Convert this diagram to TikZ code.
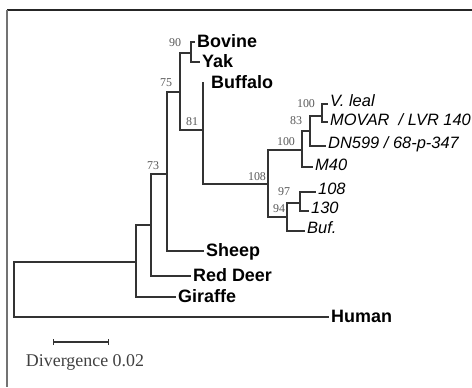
\documentclass[tikz,border=0pt]{standalone}
\usepackage{fontspec}
\setmainfont{Liberation Serif}
\setsansfont{Liberation Sans}
\usetikzlibrary{arrows.meta}

\begin{document}
\begin{tikzpicture}[
  x=1bp, y=-1bp,
  branch/.style={line width=1.4bp, black!80, line cap=rect},
  taxon/.style={anchor=west, inner sep=3bp, text height=13bp, text depth=3bp,
                font=\sffamily\bfseries\fontsize{18}{18}\selectfont},
  strain/.style={anchor=west, inner sep=3bp, text height=11.5bp, text depth=3bp,
                 font=\sffamily\itshape\fontsize{16.5}{16.5}\selectfont},
  boot/.style={inner sep=0pt, text=black!65, font=\fontsize{12}{12}\selectfont},
]
  \useasboundingbox (0,0) rectangle (472,387);

  % frame
  \draw[black!85, line width=1.5bp] (7,10) -- (472,10);
  \draw[black!55, line width=2bp] (7,10) -- (7,387);

  % internal nodes (top and bottom of each vertical)
  \coordinate (rt) at (14,262);  \coordinate (rb) at (14,317);
  \coordinate (At) at (136,225); \coordinate (Ab) at (136,297);
  \coordinate (Bt) at (151,174); \coordinate (Bb) at (151,276);
  \coordinate (Ct) at (167,92);  \coordinate (Cb) at (167,251);
  \coordinate (Dt) at (180,53);  \coordinate (Db) at (180,130);
  \coordinate (Et) at (191,42);  \coordinate (Eb) at (191,62);
  \coordinate (Ft) at (203,83);  \coordinate (Fb) at (203,184);
  \coordinate (Gt) at (268,150); \coordinate (Gb) at (268,217);
  \coordinate (Ht) at (302,131); \coordinate (Hb) at (302,167);
  \coordinate (It) at (310,116); \coordinate (Ib) at (310,146);
  \coordinate (Jt) at (322,104); \coordinate (Jb) at (322,122);
  \coordinate (Kt) at (287,203); \coordinate (Kb) at (287,231);
  \coordinate (Lt) at (300,192); \coordinate (Lb) at (300,211);

  % taxa
  \node[taxon] (bov) at (194,42)  {Bovine};
  \node[taxon] (yak) at (199,62)  {Yak};
  \node[taxon] (buf) at (208,83)  {Buffalo};
  \node[taxon] (shp) at (203,251) {Sheep};
  \node[taxon] (red) at (190,276) {Red Deer};
  \node[taxon] (gir) at (175,297) {Giraffe};
  \node[taxon] (hum) at (328,317) {Human};

  \node[strain] (vle) at (327,102) {V. leal};
  \node[strain] (mov) at (327,121) {MOVAR\ \ / LVR 140};
  \node[strain] (dns) at (325,144) {DN599 / 68-p-347};
  \node[strain] (m40) at (312,166) {M40};
  \node[strain] (s108) at (315,190) {108};
  \node[strain] (s130) at (308,209) {130};
  \node[strain] (bfs) at (304,229) {Buf.};

  % verticals
  \foreach \n in {r,A,B,C,D,E,F,G,H,I,J,K,L}
    \draw[branch] (\n t) -- (\n b);

  % horizontals between nodes
  \draw[branch] (rt) -- (rt -| At);
  \draw[branch] (At) -- (At -| Bt);
  \draw[branch] (Bt) -- (Bt -| Ct);
  \draw[branch] (Ct) -- (Ct -| Dt);
  \draw[branch] (Dt) -- (Dt -| Et);
  \draw[branch] (Db) -- (Db -| Ft);
  \draw[branch] (Fb) -- (Fb -| Gt);
  \draw[branch] (Gt) -- (Gt -| Ht);
  \draw[branch] (Gb) -- (Gb -| Kt);
  \draw[branch] (Ht) -- (Ht -| It);
  \draw[branch] (It) -- (It -| Jt);
  \draw[branch] (Kt) -- (Kt -| Lt);

  % branches to taxa
  \draw[branch] (rb) -- (hum.west);
  \draw[branch] (Ab) -- (gir.west);
  \draw[branch] (Bb) -- (red.west);
  \draw[branch] (Cb) -- (shp.west);
  \draw[branch] (Et) -- (bov.west);
  \draw[branch] (Eb) -- (yak.west);
  \draw[branch] (Jt) -- (Jt -| vle.west);
  \draw[branch] (Jb) -- (Jb -| mov.west);
  \draw[branch] (Ib) -- (Ib -| dns.west);
  \draw[branch] (Hb) -- (Hb -| m40.west);
  \draw[branch] (Lt) -- (Lt -| s108.west);
  \draw[branch] (Lb) -- (Lb -| s130.west);
  \draw[branch] (Kb) -- (Kb -| bfs.west);

  % bootstrap values
  \node[boot] (b90)  at (175,43)  {90};
  \node[boot] (b75)  at (166,83)  {75};
  \node[boot] (b73)  at (153,166) {73};
  \node[boot] (b81)  at (192,122) {81};
  \node[boot] (b108) at (257,177) {108};
  \node[boot] (b100g) at (286,142) {100};
  \node[boot] (b83)  at (296,121) {83};
  \node[boot] (b100i) at (306,104) {100};
  \node[boot] (b97)  at (284,192) {97};
  \node[boot] (b94)  at (279,209) {94};

  % scale bar
  \coordinate (sb-l) at (53,342);
  \coordinate (sb-r) at (109,342);
  \draw[branch, line cap=butt, {Bar[width=6bp]}-{Bar[width=6bp]}] (sb-l) -- (sb-r);
  \node[text=black!75, font=\fontsize{18}{18}\selectfont] (div) at (85,362) {Divergence 0.02};
\end{tikzpicture}
\end{document}
